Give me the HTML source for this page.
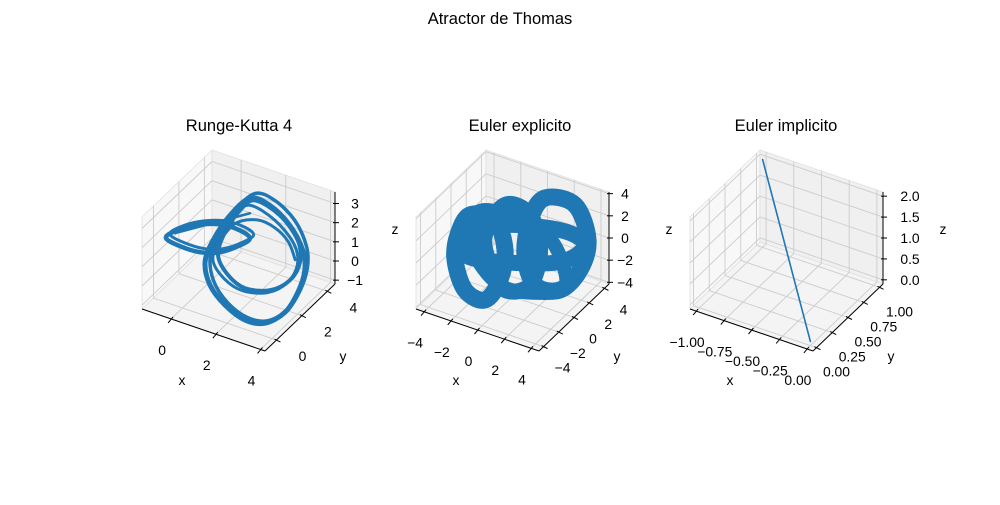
<!DOCTYPE html>
<html><head><meta charset="utf-8"><style>
html,body{margin:0;padding:0;background:#fff}
svg text{font-family:"Liberation Sans","DejaVu Sans",sans-serif;fill:#000}
</style></head><body>
<svg id="fig" width="1000" height="500" viewBox="0 0 1000 500" xmlns="http://www.w3.org/2000/svg">
<text x="500" y="24" text-anchor="middle" font-size="16.5">Atractor de Thomas</text>
<text x="239" y="131" text-anchor="middle" font-size="16.5">Runge-Kutta 4</text>
<text x="520" y="131" text-anchor="middle" font-size="16.5">Euler explicito</text>
<text x="786" y="131" text-anchor="middle" font-size="16.5">Euler implicito</text>
</svg>
<script>
// ---- Data: Runge-Kutta 4 panel (loops of x, y, z) ----
const rk4LeftX = [-0.74,-0.34,0.56,1.67,2.57,3.01,2.57,1.67,0.78,-0.11];
const rk4LeftY = [0,0,0,0,0,0,0,0,0,0];
const rk4LeftZ = [2.15,2.67,3.34,3.83,3.87,3.63,3.09,2.37,2.02,1.98];
const rk4Left2Y = [0.3,0.3,0.3,0.3,0.3,0.3,0.3,0.3,0.3,0.3];
const rk4RingX = [1.88,2.77,3.66,4.24,4.33,4.02,3.44,2.55,1.66,0.77,0.09,-0.13,0.23,0.99];
const rk4RingY = [2,2,2,2,2,2,2,2,2,2,2,2,2,2];
const rk4Ring2Y = [2.4,2.4,2.4,2.3,2.2,2.2,2.2,2.2,2.2,2.2,2.3,2.4,2.4,2.4];
const rk4RingZ = [4.0,3.98,3.29,2.22,1.22,-0.05,-1.33,-2.25,-2.44,-2.02,-1.24,-0.13,1.15,2.76];
const rk4InnerX = [2.10,3.22,4.02,4.11,3.66,2.77,1.66,0.90,0.45,0.76,1.43];
const rk4InnerY = [2,2,2,2,2,2,2,2,2,2,2];
const rk4Inner2Y = [1.6,1.6,1.7,1.8,1.8,1.8,1.8,1.7,1.6,1.6,1.6];
const rk4InnerZ = [3.98,3.64,2.65,1.54,0.43,-0.44,-0.78,-0.40,0.46,1.78,3.19];
const rk4ArchX = [0.4,1.2,2.2,3.0,3.6,3.9];
const rk4ArchY = [2,2,2,2,2,2];
const rk4ArchZ = [1.0,2.4,3.0,2.9,2.4,1.6];
const rk4CrossX = [-0.34,1.88];
const rk4CrossY = [0,2];
const rk4CrossZ = [2.57,3.22];
// ---- Data: Euler explicit panel ----
const eeAX = [-3.18,-1.31,-0.56,-0.94,-2.06,-3.55,-4.30,-4.08];
const eeAZ = [1.9,2.21,-0.18,-3.05,-5.31,-5.03,-2.62,-0.28];
const eeBX = [2.43,4.67,5.65,5.05,3.55,1.68,0.93,1.31];
const eeBZ = [5.74,6.04,3.28,0.33,-2.10,-2.42,-0.02,3.30];
const eeCX = [-0.56,1.31,2.06,1.31,-0.56,-1.68,-2.06];
const eeCZ = [3.88,3.75,0.90,-2.57,-3.79,-2.00,0.55];
const eeDX = [-3.93,-0.94,3.55,5.42,3.55,-0.94,-3.55];
const eeDZ = [-0.21,1.92,3.31,2.74,0.43,-1.42,-1.87];
const eeEX = [-2.5,0.5,3.0,4.0,2.0,-1.0,-3.0];
const eeEZ = [2.5,3.0,2.0,-1.5,-3.0,-3.5,-1.0];
// ---- Data: Euler implicit panel ----
const eiX = [0,-1];
const eiY = [0,1];
const eiZ = [0,2];
// ---- Tick values / labels ----
const p1XTicks = [0,2,4], p1YTicks = [0,2,4], p1ZTicks = [-1,0,1,2,3];
const p2Ticks = [-4,-2,0,2,4];
const p3XTicks = [-1,-0.75,-0.5,-0.25,0];
const p3XLabels = ["\u22121.00","\u22120.75","\u22120.50","\u22120.25","0.00"];
const p3YTicks = [0,0.25,0.5,0.75,1];
const p3YLabels = ["0.00","0.25","0.50","0.75","1.00"];
const p3ZTicks = [0,0.5,1,1.5,2];
const p3ZLabels = ["0.0","0.5","1.0","1.5","2.0"];

const NS = "http://www.w3.org/2000/svg";
const fig = document.getElementById('fig');
function mk(tag, attrs, parent){const e=document.createElementNS(NS,tag);for(const k in attrs)e.setAttribute(k,attrs[k]);(parent||fig).appendChild(e);return e;}
function fmt(v){return v<0?"\u2212"+Math.abs(v):String(v);}

function makePanel(cfg){
  const g = mk('g',{});
  
  
  const P = (x,y,z)=>{
    const u=(x-cfg.xr[0])/(cfg.xr[1]-cfg.xr[0]), v=(y-cfg.yr[0])/(cfg.yr[1]-cfg.yr[0]), w=(z-cfg.zr[0])/(cfg.zr[1]-cfg.zr[0]);
    return [cfg.A[0]+u*123+v*70, cfg.A[1]+u*42-v*67-w*92];
  };
  const [x0,x1]=cfg.xr,[y0,y1]=cfg.yr,[z0,z1]=cfg.zr;
  const poly=(pts,fill,name)=>{const e=mk('polygon',{points:pts.map(p=>p.join(',')).join(' '),fill:fill,stroke:'#e0e0e0','stroke-width':0.8},g);
    
    };
  poly([P(x0,y0,z0),P(x0,y1,z0),P(x0,y1,z1),P(x0,y0,z1)],'#f8f8f8','x-pane');
  poly([P(x0,y1,z0),P(x1,y1,z0),P(x1,y1,z1),P(x0,y1,z1)],'#f0f0f0','y-pane');
  poly([P(x0,y0,z0),P(x1,y0,z0),P(x1,y1,z0),P(x0,y1,z0)],'#f4f4f4','z-pane');
  const line=(a,b,col,w,name)=>{const e=mk('line',{x1:a[0],y1:a[1],x2:b[0],y2:b[1],stroke:col,'stroke-width':w},g);
    
    return e;};
  const gc='#cccccc';
  cfg.xt.forEach(t=>{line(P(t,y0,z0),P(t,y1,z0),gc,0.9,'x-grid-line');line(P(t,y1,z0),P(t,y1,z1),gc,0.9,'x-grid-line');});
  cfg.yt.forEach(t=>{line(P(x0,t,z0),P(x1,t,z0),gc,0.9,'y-grid-line');line(P(x0,t,z0),P(x0,t,z1),gc,0.9,'y-grid-line');});
  cfg.zt.forEach(t=>{line(P(x0,y0,t),P(x0,y1,t),gc,0.9,'z-grid-line');line(P(x0,y1,t),P(x1,y1,t),gc,0.9,'z-grid-line');});
  line(P(x0,y0,z0),P(x1,y0,z0),'#000',1,'x-axis-line');
  line(P(x1,y0,z0),P(x1,y1,z0),'#000',1,'y-axis-line');
  line(P(x1,y1,z0),P(x1,y1,z1),'#000',1,'z-axis-line');
  const txt=(x,y,s,anchor,name,size)=>{const e=mk('text',{x:x,y:y,'text-anchor':anchor,'dominant-baseline':'central','font-size':size||13.9},g);e.textContent=s;
    
    };
  cfg.xt.forEach((t,i)=>{const p=P(t,y0,z0);line([p[0]+2,p[1]-2],[p[0]-3,p[1]+4],'#000',1,'x-tick');txt(p[0]-9,p[1]+31,cfg.xl[i],'middle','x-tick-label');});
  cfg.yt.forEach((t,i)=>{const p=P(x1,t,z0);line([p[0]-2,p[1]-1],[p[0]+4,p[1]+2],'#000',1,'y-tick');txt(p[0]+cfg.yo[0],p[1]+cfg.yo[1],cfg.yl[i],'middle','y-tick-label');});
  cfg.zt.forEach((t,i)=>{const p=P(x1,y1,t);line([p[0]-2,p[1]],[p[0]+4,p[1]],'#000',1,'z-tick');txt(p[0]+cfg.zo,p[1],cfg.zl[i],'middle','z-tick-label');});
  txt(cfg.A[0]+40,cfg.A[1]+71,'x','middle','x-axis-title');
  txt(cfg.A[0]+201,cfg.A[1]+47,'y','middle','y-axis-title');
  txt(cfg.A[0]+253,229,'z','middle','z-axis-title');
  return {g,P};
}

function smoothPath(pts, closed){
  if(!closed){
    if(pts.length<3) return 'M'+pts.map(p=>p.join(',')).join(' L');
    const n=pts.length;let d='M'+pts[0].join(',');
    for(let i=0;i<n-1;i++){
      const p0=pts[Math.max(i-1,0)],p1=pts[i],p2=pts[i+1],p3=pts[Math.min(i+2,n-1)];
      const c1=[p1[0]+(p2[0]-p0[0])/6,p1[1]+(p2[1]-p0[1])/6],c2=[p2[0]-(p3[0]-p1[0])/6,p2[1]-(p3[1]-p1[1])/6];
      d+=' C'+c1.join(',')+' '+c2.join(',')+' '+p2.join(',');
    }
    return d;
  }
  const n=pts.length;let d='M'+pts[0].join(',');
  for(let i=0;i<n;i++){
    const p0=pts[(i-1+n)%n],p1=pts[i],p2=pts[(i+1)%n],p3=pts[(i+2)%n];
    const c1=[p1[0]+(p2[0]-p0[0])/6,p1[1]+(p2[1]-p0[1])/6],c2=[p2[0]-(p3[0]-p1[0])/6,p2[1]-(p3[1]-p1[1])/6];
    d+=' C'+c1.join(',')+' '+c2.join(',')+' '+p2.join(',');
  }
  return d+'Z';
}
function drawSeries(panel,xs,ys,zs,closed,w,name){
  const pts=xs.map((x,i)=>panel.P(x,ys[i],zs[i]));
  const e=mk('path',{d:smoothPath(pts,closed),fill:'none',stroke:'#1f77b4','stroke-width':w,'stroke-linejoin':'round','stroke-linecap':'round'},panel.g);
  
  
}

const p1=makePanel({name:'rk4-axes',A:[142,309],xr:[-1.3,4.2],yr:[-0.9,4.6],zr:[-1.2,3.6],
  xt:p1XTicks,xl:p1XTicks.map(fmt),yt:p1YTicks,yl:p1YTicks.map(fmt),zt:p1ZTicks,zl:p1ZTicks.map(fmt),yo:[26,16],zo:20});
drawSeries(p1,rk4LeftX,rk4LeftY,rk4LeftZ,true,4.5,'rk4-left-loop');
drawSeries(p1,rk4LeftX,rk4Left2Y,rk4LeftZ,true,3,'rk4-left-loop-2');
drawSeries(p1,rk4RingX,rk4RingY,rk4RingZ,true,5,'rk4-outer-ring');
drawSeries(p1,rk4RingX,rk4Ring2Y,rk4RingZ,true,3.5,'rk4-outer-ring-2');
drawSeries(p1,rk4InnerX,rk4InnerY,rk4InnerZ,true,4,'rk4-inner-ring');
drawSeries(p1,rk4InnerX,rk4Inner2Y,rk4InnerZ,true,3,'rk4-inner-ring-2');
drawSeries(p1,rk4ArchX,rk4ArchY,rk4ArchZ,false,3,'rk4-arch');
drawSeries(p1,rk4CrossX,rk4CrossY,rk4CrossZ,false,2.5,'rk4-cross-segment');

const p2=makePanel({name:'euler-explicit-axes',A:[416,309],xr:[-4.6,4.6],yr:[-4.6,4.6],zr:[-4.15,4.15],
  xt:p2Ticks,xl:p2Ticks.map(fmt),yt:p2Ticks,yl:p2Ticks.map(fmt),zt:p2Ticks,zl:p2Ticks.map(fmt),yo:[19,21],zo:16});
const zeros=n=>new Array(n).fill(0);
drawSeries(p2,eeAX,zeros(eeAX.length),eeAZ,true,17,'ee-left-ring');
drawSeries(p2,eeBX,zeros(eeBX.length),eeBZ,true,17,'ee-right-ring');
drawSeries(p2,eeCX,zeros(eeCX.length),eeCZ,true,16,'ee-middle-ring');
drawSeries(p2,eeDX,zeros(eeDX.length),eeDZ,true,16,'ee-cross-ring');
drawSeries(p2,eeEX,zeros(eeEX.length),eeEZ,true,14,'ee-inner-ring');

const p3=makePanel({name:'euler-implicit-axes',A:[690,309],xr:[-1.055,0.055],yr:[-0.055,1.055],zr:[-0.1,2.1],
  xt:p3XTicks,xl:p3XLabels,yt:p3YTicks,yl:p3YLabels,zt:p3ZTicks,zl:p3ZLabels,yo:[20,24],zo:27});
drawSeries(p3,eiX,eiY,eiZ,false,1.6,'ei-trajectory');
</script>
</body></html>
